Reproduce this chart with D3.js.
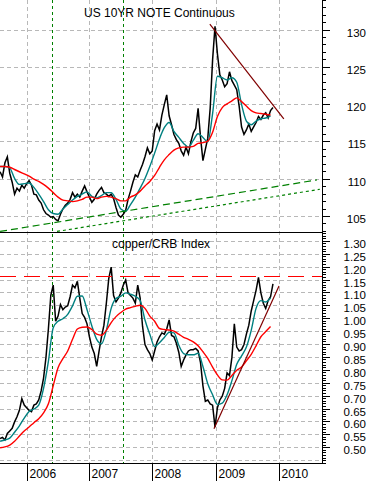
<!DOCTYPE html>
<html>
<head>
<meta charset="utf-8">
<script src="https://cdn.jsdelivr.net/npm/d3@7"></script>
<style>
  body { margin: 0; background: #fff; }
  svg { display: block; font-family: 'Liberation Sans', Arial, sans-serif; }
</style>
</head>
<body>
<svg width="371" height="481"></svg>
<script>
// closes are every 14 days, moving averages every 28 days, all from 29 Jul 2005
const startDate = new Date(2005, 6, 29);

const noteClose = [
  111.0, 110.3, 112.2, 113.0, 110.8, 109.6, 108.0, 108.8, 108.4, 109.2,
  108.8, 109.4, 109.8, 109.2, 108.0, 107.9, 107.2, 106.8, 105.9, 105.4,
  105.2, 104.9, 105.0, 104.6, 104.4, 105.3, 106.0, 106.5, 106.8, 107.3,
  108.2, 107.6, 108.0, 107.6, 108.4, 109.1, 108.3, 107.6, 106.9, 107.3,
  108.0, 108.5, 108.9, 108.2, 108.0, 107.7, 108.0, 107.4, 106.2, 105.2,
  104.9, 105.3, 105.8, 107.3, 108.4, 109.6, 110.6, 110.3, 111.2, 112.0,
  113.0, 114.2, 113.4, 113.8, 116.5, 117.4, 116.6, 118.6, 120.0, 121.3,
  118.5, 117.3, 116.0, 115.3, 114.8, 113.8, 113.2, 114.3, 113.4, 115.0,
  116.2, 116.8, 119.5, 115.6, 112.5, 114.0, 115.5, 119.5, 126.0, 130.5,
  126.8, 124.0, 123.3, 122.4, 122.8, 124.4, 123.2, 122.6, 122.0, 119.8,
  117.0, 116.0, 116.6, 117.4, 116.4, 117.0, 117.6, 118.4, 118.0, 118.6,
  118.9, 118.2, 119.2, 119.6
];
const noteFast = [
  111.7, 111.7, 111.5, 110.1, 109.3, 109.4, 109.5, 108.9, 108.0, 107.0,
  105.9, 105.4, 105.3, 106.0, 106.6, 107.2, 107.7, 108.0, 108.3, 107.7,
  107.5, 107.8, 108.2, 108.2, 107.3, 106.0, 105.7, 106.6, 107.6, 108.8,
  110.1, 111.7, 113.5, 115.4, 116.9, 117.6, 116.4, 115.6, 114.8, 114.3,
  115.2, 116.1, 115.6, 115.0, 118.8, 123.8, 123.6, 123.3, 123.6, 123.0,
  120.0, 117.8, 117.3, 117.8, 118.1, 118.2, 118.5
];
const noteSlow = [
  111.7, 111.7, 111.6, 111.3, 111.0, 110.7, 110.4, 110.0, 109.7, 109.3,
  108.8, 108.2, 107.6, 107.2, 107.1, 107.0, 107.1, 107.3, 107.6, 107.6,
  107.4, 107.6, 107.7, 107.6, 107.4, 107.1, 107.1, 107.6, 107.9, 108.4,
  109.1, 109.7, 110.5, 111.6, 112.6, 113.3, 113.9, 114.2, 114.3, 114.3,
  114.4, 114.8, 114.9, 115.1, 116.3, 118.4, 119.6, 120.1, 120.5, 120.9,
  120.4, 119.8, 119.2, 118.9, 118.8, 118.7, 118.6
];

const ratioClose = [
  0.535, 0.540, 0.530, 0.555, 0.565, 0.575, 0.600, 0.620, 0.645, 0.690,
  0.665, 0.655, 0.645, 0.640, 0.665, 0.670, 0.685, 0.720, 0.770, 0.850,
  0.960, 1.090, 1.130, 0.990, 1.010, 1.055, 1.035, 1.045, 1.050, 1.085,
  1.130, 1.120, 1.145, 1.080, 1.020, 1.005, 0.980, 0.930, 0.890, 0.865,
  0.815, 0.875, 0.930, 0.975, 1.060, 1.155, 1.200, 1.090, 1.065, 1.080,
  1.100, 1.130, 1.150, 1.100, 1.090, 1.080, 1.060, 1.130, 1.080, 0.970,
  0.900, 0.880, 0.865, 0.840, 0.875, 0.910, 0.930, 0.945, 0.940, 0.960,
  0.995, 0.935, 0.930, 0.905, 0.870, 0.815, 0.840, 0.860, 0.875, 0.880,
  0.880, 0.885, 0.875, 0.830, 0.740, 0.680, 0.685, 0.670, 0.665, 0.580,
  0.655, 0.685, 0.700, 0.730, 0.790, 0.780, 0.850, 0.980, 0.890, 0.875,
  0.880, 0.900, 0.940, 0.975, 1.030, 1.070, 1.110, 1.160, 1.100, 1.060,
  1.040, 1.070, 1.085, 1.135
];
const ratioFast = [
  0.525, 0.530, 0.537, 0.560, 0.585, 0.615, 0.640, 0.650, 0.665, 0.730,
  0.835, 0.965, 0.990, 1.000, 1.017, 1.050, 1.087, 1.088, 1.035, 0.972,
  0.920, 0.903, 0.955, 1.040, 1.078, 1.087, 1.100, 1.095, 1.087, 1.070,
  0.995, 0.940, 0.892, 0.907, 0.927, 0.947, 0.945, 0.897, 0.865, 0.860,
  0.860, 0.866, 0.815, 0.748, 0.705, 0.668, 0.673, 0.705, 0.760, 0.823,
  0.856, 0.890, 0.955, 1.040, 1.070, 1.065, 1.080
];
const ratioSlow = [
  0.500, 0.503, 0.510, 0.525, 0.545, 0.565, 0.580, 0.597, 0.612, 0.635,
  0.670, 0.740, 0.810, 0.845, 0.875, 0.920, 0.960, 0.967, 0.968, 0.958,
  0.940, 0.936, 0.955, 0.985, 1.008, 1.024, 1.037, 1.043, 1.048, 1.052,
  1.040, 1.010, 0.990, 0.962, 0.958, 0.956, 0.952, 0.940, 0.928, 0.920,
  0.910, 0.895, 0.872, 0.846, 0.812, 0.782, 0.763, 0.762, 0.780, 0.800,
  0.813, 0.837, 0.862, 0.895, 0.930, 0.950, 0.970
];

const noteTicks = [105, 110, 115, 120, 125, 130];
const ratioTicks = [0.50, 0.55, 0.60, 0.65, 0.70, 0.75, 0.80, 0.85, 0.90,
  0.95, 1.00, 1.05, 1.10, 1.15, 1.20, 1.25, 1.30];
const years = [2006, 2007, 2008, 2009, 2010];
const markerDates = ['2006-05-31', '2007-07-15'];

// trend lines as [date, value] end points
const noteDownTrend = [['2008-11-26', 130.8], ['2010-01-29', 118.1]];
const noteSupportA = [['2005-07-29', 103.0], ['2010-08-09', 109.9]];
const noteSupportB = [['2006-06-24', 103.0], ['2010-08-26', 108.65]];
const ratioUpTrend = [['2008-12-20', 0.573], ['2010-01-01', 1.127]];
const ratioResistance = 1.163;

const svg = d3.select('svg');
const W = 322, splitY = 232, baseY = 463;
const parse = d3.timeParse('%Y-%m-%d');

const x = d3.scaleTime()
  .domain([new Date(2006, 0, 1), new Date(2010, 0, 1)])
  .range([27, 279]);
const yTop = d3.scaleLinear().domain([105, 130]).range([216.5, 30]);
const yBot = d3.scaleLinear().domain([0.5, 1.3]).range([447.7, 241.3]);

// snap hairlines onto pixel centres
function crisp(v) { return Math.round(v - 0.5) + 0.5; }

function series(vals, step) {
  return vals.map(function(v, i) {
    return {date: d3.timeDay.offset(startDate, step * i), value: v};
  });
}

let defs = svg.append('defs');
defs.append('clipPath').attr('id', 'clipTop')
  .append('rect').attr('x', 0).attr('y', 0).attr('width', W).attr('height', splitY);
defs.append('clipPath').attr('id', 'clipBot')
  .append('rect').attr('x', 0).attr('y', splitY).attr('width', W).attr('height', baseY - splitY);

// grid
let grid = svg.append('g')
  .attr('stroke', '#b8b8b8')
  .attr('stroke-dasharray', '4,3');
grid.selectAll('.gx')
  .data(years)
  .enter().append('line')
  .attr('x1', function(d) { return crisp(x(new Date(d, 0, 1))); })
  .attr('x2', function(d) { return crisp(x(new Date(d, 0, 1))); })
  .attr('y1', 0)
  .attr('y2', baseY);
grid.selectAll('.gt')
  .data(noteTicks)
  .enter().append('line')
  .attr('x1', 0).attr('x2', W)
  .attr('y1', function(d) { return crisp(yTop(d)); })
  .attr('y2', function(d) { return crisp(yTop(d)); });
grid.selectAll('.gb')
  .data(ratioTicks.concat([0.45]))
  .enter().append('line')
  .attr('x1', 0).attr('x2', W)
  .attr('y1', function(d) { return crisp(yBot(d)); })
  .attr('y2', function(d) { return crisp(yBot(d)); });

// green marker verticals
svg.append('g').selectAll('line')
  .data(markerDates)
  .enter().append('line')
  .attr('x1', function(d) { return crisp(x(parse(d))); })
  .attr('x2', function(d) { return crisp(x(parse(d))); })
  .attr('y1', 0).attr('y2', baseY)
  .attr('stroke', '#008000')
  .attr('stroke-dasharray', '3,3');

function drawPanel(clip, y, close, fast, slow) {
  let g = svg.append('g').attr('clip-path', 'url(#' + clip + ')');
  let line = d3.line()
    .x(function(d) { return x(d.date); })
    .y(function(d) { return y(d.value); });
  let smooth = d3.line()
    .curve(d3.curveMonotoneX)
    .x(function(d) { return x(d.date); })
    .y(function(d) { return y(d.value); });
  g.append('path')
    .datum(series(close, 14))
    .attr('d', line)
    .attr('fill', 'none')
    .attr('stroke', '#000')
    .attr('stroke-width', 1.5);
  g.append('path')
    .datum(series(fast, 28))
    .attr('d', smooth)
    .attr('fill', 'none')
    .attr('stroke', '#008080')
    .attr('stroke-width', 1.4);
  g.append('path')
    .datum(series(slow, 28))
    .attr('d', smooth)
    .attr('fill', 'none')
    .attr('stroke', '#ff0000')
    .attr('stroke-width', 1.4);
  return g;
}

let topPanel = drawPanel('clipTop', yTop, noteClose, noteFast, noteSlow);
let botPanel = drawPanel('clipBot', yBot, ratioClose, ratioFast, ratioSlow);

function trend(g, y, pts, color, dash) {
  g.append('line')
    .attr('x1', x(parse(pts[0][0]))).attr('y1', y(pts[0][1]))
    .attr('x2', x(parse(pts[1][0]))).attr('y2', y(pts[1][1]))
    .attr('stroke', color)
    .attr('stroke-width', 1.2)
    .attr('stroke-dasharray', dash);
}
trend(topPanel, yTop, noteDownTrend, '#800000', null);
trend(topPanel, yTop, noteSupportA, '#008000', '7,4');
trend(topPanel, yTop, noteSupportB, '#008000', '3,3');
trend(botPanel, yBot, ratioUpTrend, '#800000', null);
botPanel.append('line')
  .attr('x1', 0).attr('x2', W)
  .attr('y1', crisp(yBot(ratioResistance))).attr('y2', crisp(yBot(ratioResistance)))
  .attr('stroke', '#ff0000')
  .attr('stroke-width', 1.2)
  .attr('stroke-dasharray', '16,8');

// frame lines
svg.append('line').attr('x1', 0).attr('x2', W).attr('y1', splitY + 0.5).attr('y2', splitY + 0.5)
  .attr('stroke', '#000');
svg.append('line').attr('x1', 0).attr('x2', W).attr('y1', baseY + 0.5).attr('y2', baseY + 0.5)
  .attr('stroke', '#000');

// right axes: tick marks snapped to pixels, labels at the exact value
function rightAxis(scale, minor, major, fmt, y0, y1) {
  let g = svg.append('g').attr('transform', 'translate(' + W + ',0)');
  g.call(d3.axisRight(scale).tickValues(minor).tickSize(4).tickFormat(''));
  g.append('g').call(d3.axisRight(scale).tickValues(major).tickSize(8).tickFormat(''));
  g.selectAll('.domain').remove();
  g.selectAll('.tick').attr('transform', function(d) {
    return 'translate(0,' + crisp(scale(d)) + ')';
  });
  g.selectAll('line').attr('stroke', '#000');
  g.append('g').selectAll('text')
    .data(major)
    .enter().append('text')
    .attr('x', 44)
    .attr('y', function(d) { return scale(d) + 6.5; })
    .attr('text-anchor', 'end')
    .attr('fill', '#000')
    .attr('font-size', 11.5)
    .text(function(d) { return fmt(d); });
  g.append('line').attr('x1', 0.5).attr('x2', 0.5).attr('y1', y0).attr('y2', y1)
    .attr('stroke', '#000');
}
rightAxis(yTop, d3.range(103, 134.5, 1), noteTicks, d3.format('d'), 0, splitY);
rightAxis(yBot, d3.range(0.44, 1.335, 0.01), ratioTicks, d3.format('.2f'), splitY, baseY + 1);

// bottom time axis
let xa = svg.append('g').attr('transform', 'translate(0,' + baseY + ')')
  .call(d3.axisBottom(x)
    .tickValues(years.map(function(d) { return new Date(d, 0, 1); }))
    .tickSize(18)
    .tickFormat(d3.timeFormat('%Y')));
xa.select('.domain').remove();
xa.selectAll('.tick').attr('transform', function(d) {
  return 'translate(' + crisp(x(d)) + ',0)';
});
xa.selectAll('line').attr('stroke', '#000');
xa.selectAll('text')
  .attr('x', 2).attr('y', 15).attr('dy', 0)
  .attr('text-anchor', 'start')
  .attr('fill', '#000')
  .attr('font-size', 12);

// panel titles
svg.append('text').attr('x', 84).attr('y', 17)
  .attr('font-size', 12).text('US 10YR NOTE Continuous');
svg.append('text').attr('x', 112).attr('y', 248)
  .attr('font-size', 12).text('copper/CRB Index');
</script>
</body>
</html>
